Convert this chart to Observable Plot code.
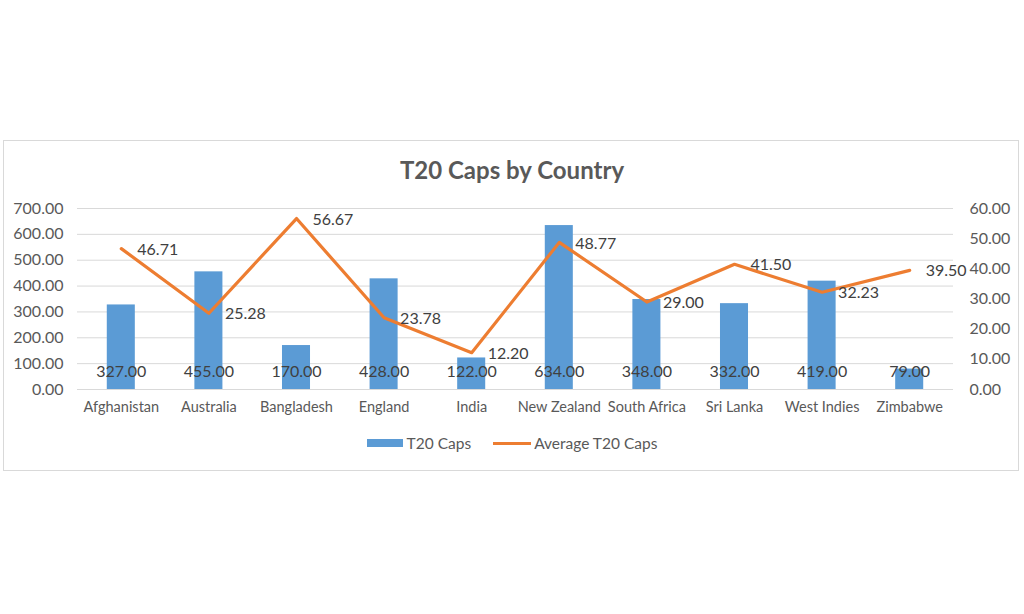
<!DOCTYPE html>
<html>
<head>
<meta charset="utf-8">
<script src="https://cdn.jsdelivr.net/npm/d3@7"></script>
<script src="https://cdn.jsdelivr.net/npm/@observablehq/plot@0.6"></script>
<style>
  html, body { margin: 0; padding: 0; background: #fff; }
  body { width: 1024px; height: 614px; position: relative; overflow: hidden; font-family: Lato, "Open Sans", sans-serif; }
  #frame { position: absolute; left: 3px; top: 140px; width: 1016px; height: 331px; border: 1px solid #d9d9d9; box-sizing: border-box; }
  #title { position: absolute; left: 0; top: 155px; width: 1024px; text-align: center; font-size: 24px; font-weight: bold; color: #595959; }
  #chart { position: absolute; left: 0; top: 190px; }
  #legend { position: absolute; top: 434px; left: 0; width: 1024px; display: flex; justify-content: center; align-items: center; font-size: 15.5px; color: #595959; }
  .sw-bar { display: inline-block; width: 36px; height: 8px; background: #5B9BD5; margin-right: 4px; }
  .sw-line { display: inline-block; width: 38px; height: 3px; background: #ED7D31; margin-left: 22px; margin-right: 3px; }
</style>
</head>
<body>
<div id="frame"></div>
<div id="title">T20 Caps by Country</div>
<div id="chart"></div>
<div id="legend"><span class="sw-bar"></span><span>T20 Caps</span><span class="sw-line"></span><span>Average T20 Caps</span></div>
<script>
const countries = ["Afghanistan","Australia","Bangladesh","England","India","New Zealand","South Africa","Sri Lanka","West Indies","Zimbabwe"];
const t20Caps = [327, 455, 170, 428, 122, 634, 348, 332, 419, 79];
const avgCaps = [46.71, 25.28, 56.67, 23.78, 12.20, 48.77, 29.00, 41.50, 32.23, 39.50];
const leftTicks = [0, 100, 200, 300, 400, 500, 600, 700];
const rightTicks = [0, 10, 20, 30, 40, 50, 60];

const k = 700 / 60;
const data = countries.map((c, i) => ({country: c, caps: t20Caps[i], avg: avgCaps[i], avgScaled: avgCaps[i] * k}));

const chart = Plot.plot({
  width: 1024,
  height: 235,
  marginLeft: 77,
  marginRight: 71,
  marginTop: 18,
  marginBottom: 36,
  style: {fontFamily: "Lato, 'Open Sans', sans-serif", fontSize: "16px", color: "#595959", background: "transparent"},
  x: {domain: countries, paddingInner: 0.68, paddingOuter: 0.34, label: null, round: false},
  y: {domain: [0, 700], label: null},
  marks: [
    Plot.gridY(leftTicks, {stroke: "#d9d9d9", strokeOpacity: 1, strokeWidth: 1}),
    Plot.barY(data, {x: "country", y: "caps", fill: "#5B9BD5"}),
    Plot.line(data, {x: "country", y: "avgScaled", stroke: "#ED7D31", strokeWidth: 3.2, strokeLinejoin: "round"}),
    Plot.text(data, {x: "country", y: 0, text: d => d.caps.toFixed(2), dy: -18, fill: "#404040", fontSize: 16}),
    Plot.text(data, {x: "country", y: "avgScaled", text: d => d.avg.toFixed(2), dx: 16, dy: 1, textAnchor: "start", fill: "#404040", fontSize: 16}),
    Plot.axisY(leftTicks, {anchor: "left", tickSize: 0, tickPadding: 14, tickFormat: d => d.toFixed(2), label: null, fill: "#595959"}),
    Plot.axisY(rightTicks.map(v => v * k), {anchor: "right", tickSize: 0, tickPadding: 16, tickFormat: d => (d / k).toFixed(2), label: null, fill: "#595959"}),
    Plot.axisX({tickSize: 0, tickPadding: 12, label: null, fill: "#595959", fontSize: 14.5})
  ]
});
document.getElementById("chart").appendChild(chart);
</script>
</body>
</html>
